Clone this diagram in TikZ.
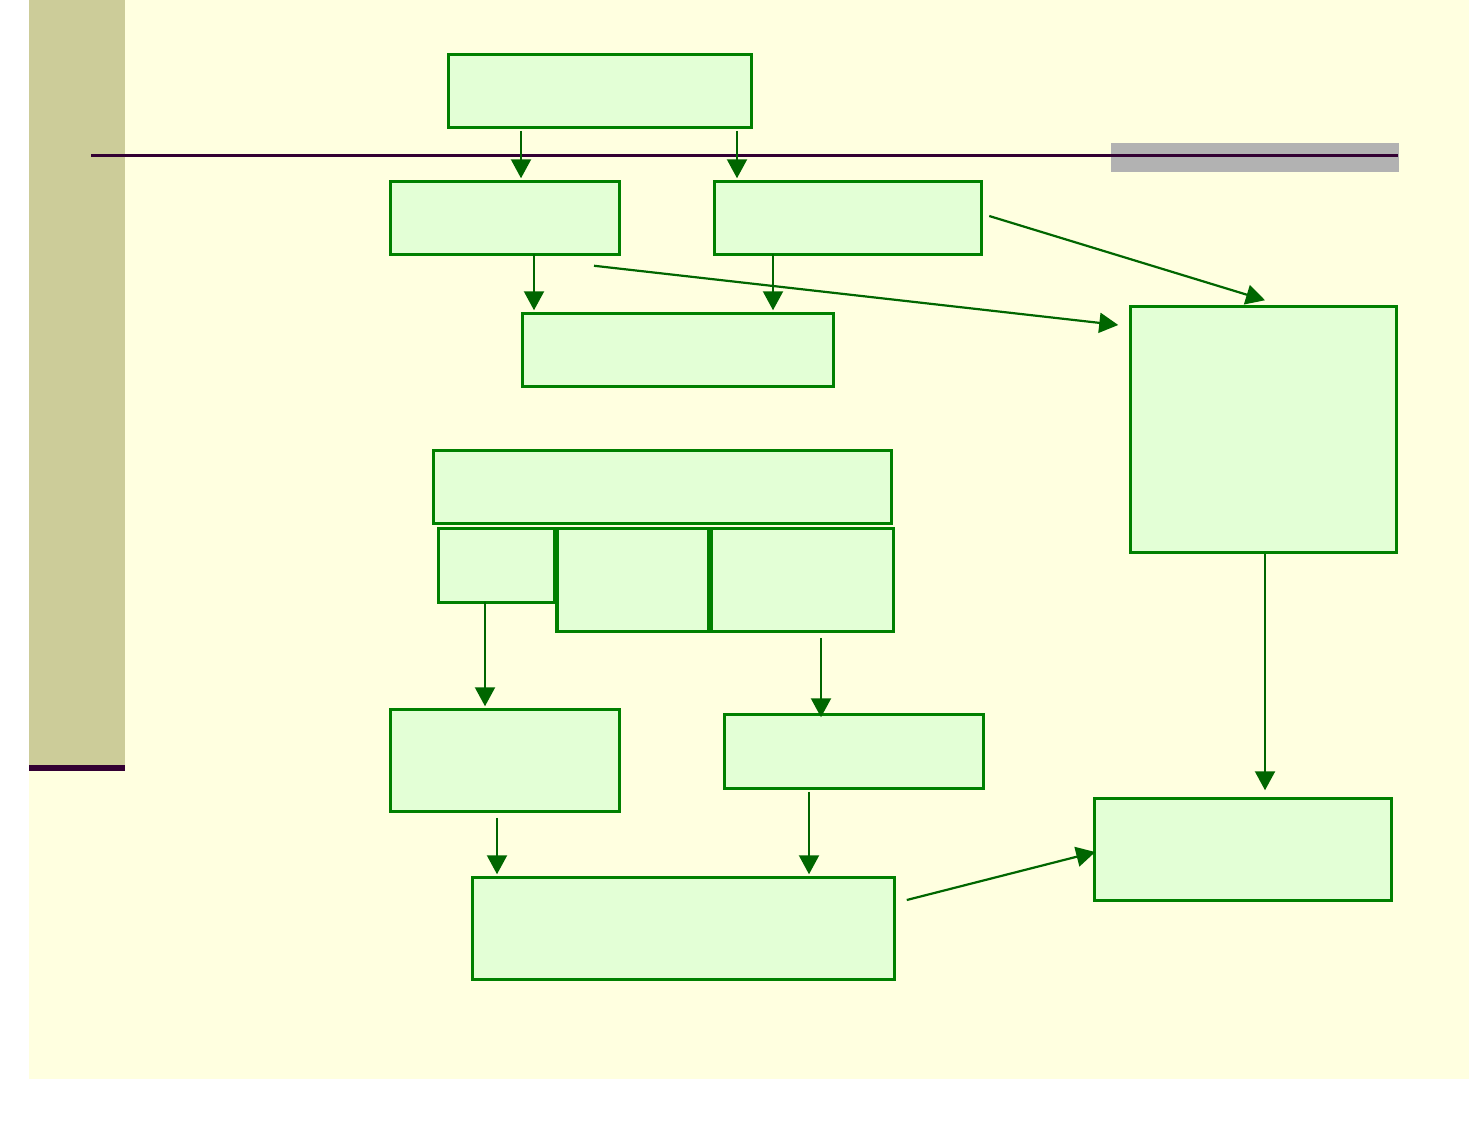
\documentclass[tikz,border=0pt]{standalone}
\usetikzlibrary{arrows.meta}
\definecolor{cream}{HTML}{FFFFE0}
\definecolor{khaki}{HTML}{CCCC99}
\definecolor{plum}{HTML}{330033}
\definecolor{greyband}{HTML}{B2B2B2}
\definecolor{boxline}{HTML}{008000}
\definecolor{boxfill}{HTML}{E3FFD6}
\definecolor{arrowc}{HTML}{006600}
\tikzset{
  box/.style={draw=boxline, fill=boxfill, line width=3.5pt, inner sep=0pt, rectangle},
  conn/.style={draw=arrowc, line width=2.2pt, -{Triangle[length=19pt,width=20pt]}}
}
\begin{document}
\begin{tikzpicture}[x=1pt,y=-1pt]
\useasboundingbox (0,0) rectangle (1469,1133);
\fill[white] (0,0) rectangle (1469,1133);
\fill[cream] (29,0) rectangle (1469,1079);
\fill[khaki] (29,0) rectangle (125,765);
\fill[plum] (29,765) rectangle (125,771);
\fill[greyband] (1111,143) rectangle (1399,172);
\draw[plum, line width=3pt] (91,155) -- (1398,155);

\node[box, minimum width=303pt, minimum height=73pt] (b1) at (600,91) {};
\node[box, minimum width=229pt, minimum height=73pt] (b2) at (505,218) {};
\node[box, minimum width=267pt, minimum height=73pt] (b3) at (848,218) {};
\node[box, minimum width=311pt, minimum height=73pt] (b4) at (678,350) {};
\node[box, minimum width=266pt, minimum height=246pt] (b5) at (1263.5,429.5) {};
\node[box, minimum width=458pt, minimum height=73pt] (b6) at (662.5,487) {};
\node[box, minimum width=116pt, minimum height=74pt] (b7) at (496.5,565.5) {};
\node[box, minimum width=151.5pt, minimum height=103pt] (b8) at (632.75,580) {};
\node[box, minimum width=182pt, minimum height=103pt] (b9) at (802.5,580) {};
\node[box, minimum width=229pt, minimum height=102pt] (b10) at (505,760.5) {};
\node[box, minimum width=259pt, minimum height=74pt] (b11) at (854,751.5) {};
\node[box, minimum width=422pt, minimum height=102pt] (b12) at (683.5,928.5) {};
\node[box, minimum width=297pt, minimum height=102pt] (b13) at (1243,849.5) {};

\draw[conn] ([xshift=-79pt,yshift=-1.5pt]b1.south) -- ([xshift=16pt,yshift=1.5pt]b2.north);
\draw[conn] ([xshift=137pt,yshift=-1.5pt]b1.south) -- ([xshift=-111pt,yshift=1.5pt]b3.north);
\draw[conn] ([xshift=29pt,yshift=2.5pt]b2.south) -- ([xshift=-144pt,yshift=1.5pt]b4.north);
\draw[conn] ([xshift=-75pt,yshift=2.5pt]b3.south) -- ([xshift=95pt,yshift=1.5pt]b4.north);
\draw[conn] ([xshift=89pt,yshift=-9.5pt]b2.south) -- ([xshift=-10.5pt,yshift=104.5pt]b5.west);
\draw[conn] ([xshift=6pt,yshift=2pt]b3.east) -- ([xshift=1.5pt,yshift=4.5pt]b5.north);
\draw[conn] ([xshift=-11.5pt,yshift=2.5pt]b7.south) -- ([xshift=-20pt,yshift=1.5pt]b10.north);
\draw[conn] ([xshift=18.5pt,yshift=-4.5pt]b9.south) -- ([xshift=-33pt,yshift=-4.5pt]b11.north);
\draw[conn] ([xshift=1.5pt]b5.south) -- ([xshift=22pt,yshift=6.5pt]b13.north);
\draw[conn] ([xshift=-8pt,yshift=-4.5pt]b10.south) -- ([xshift=-186.5pt,yshift=1.5pt]b12.north);
\draw[conn] ([xshift=-45pt,yshift=-1.5pt]b11.south) -- ([xshift=125.5pt,yshift=1.5pt]b12.north);
\draw[conn] ([xshift=10.5pt,yshift=28.5pt]b12.east) -- ([xshift=2.5pt,yshift=-2.5pt]b13.west);
\end{tikzpicture}
\end{document}
